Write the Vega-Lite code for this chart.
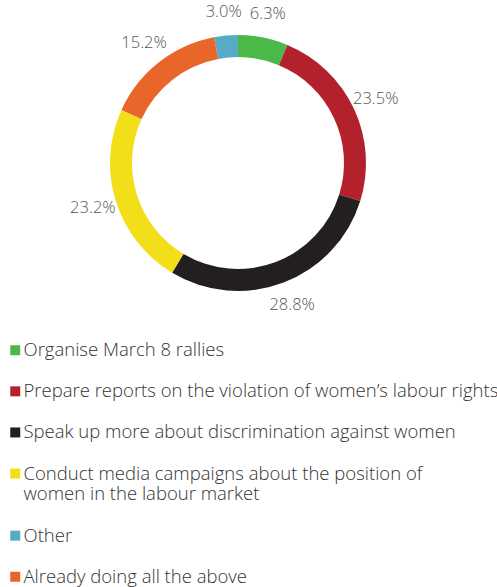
{
  "$schema": "https://vega.github.io/schema/vega-lite/v6.json",
  "width": 476,
  "height": 326,
  "padding": 0,
  "autosize": {"type": "pad"},
  "background": "white",
  "config": {"view": {"stroke": null}, "font": "Open Sans"},
  "data": {
    "values": [
      {"order": 1, "label": "Organise March 8 rallies", "pct": 0.063},
      {"order": 2, "label": "Prepare reports on the violation of women’s labour rights", "pct": 0.235},
      {"order": 3, "label": "Speak up more about discrimination against women", "pct": 0.288},
      {"order": 4, "label": "Conduct media campaigns about the position of women in the labour market", "pct": 0.232},
      {"order": 6, "label": "Other", "pct": 0.030},
      {"order": 5, "label": "Already doing all the above", "pct": 0.152}
    ]
  },
  "encoding": {
    "theta": {"field": "pct", "type": "quantitative", "stack": true},
    "order": {"field": "order", "type": "quantitative"}
  },
  "layer": [
    {
      "mark": {"type": "arc", "innerRadius": 106, "outerRadius": 128},
      "encoding": {
        "color": {
          "field": "label",
          "type": "nominal",
          "sort": null,
          "scale": {
            "domain": [
              "Organise March 8 rallies",
              "Prepare reports on the violation of women’s labour rights",
              "Speak up more about discrimination against women",
              "Conduct media campaigns about the position of women in the labour market",
              "Other",
              "Already doing all the above"
            ],
            "range": ["#4cb84a", "#b3222c", "#231f20", "#f2df1a", "#58abc7", "#e9662a"]
          },
          "legend": {
            "orient": "none",
            "legendX": 6,
            "legendY": 341,
            "title": null,
            "padding": 0,
            "symbolType": "square",
            "symbolSize": 100,
            "symbolStrokeWidth": 0,
            "labelFont": "Open Sans",
            "labelFontSize": 18.5,
            "labelFontWeight": 300,
            "labelColor": "#333333",
            "labelLimit": 600,
            "labelOffset": -1,
            "rowPadding": 22.1,
            "labelExpr": "datum.label == 'Conduct media campaigns about the position of women in the labour market' ? ['Conduct media campaigns about the position of', 'women in the labour market'] : datum.label"
          }
        }
      }
    },
    {
      "mark": {"type": "text", "radius": 152, "fontSize": 16.5, "fontWeight": 300, "font": "Open Sans", "color": "#555555"},
      "encoding": {
        "text": {"field": "pct", "type": "quantitative", "format": ".1%"}
      }
    }
  ]
}
